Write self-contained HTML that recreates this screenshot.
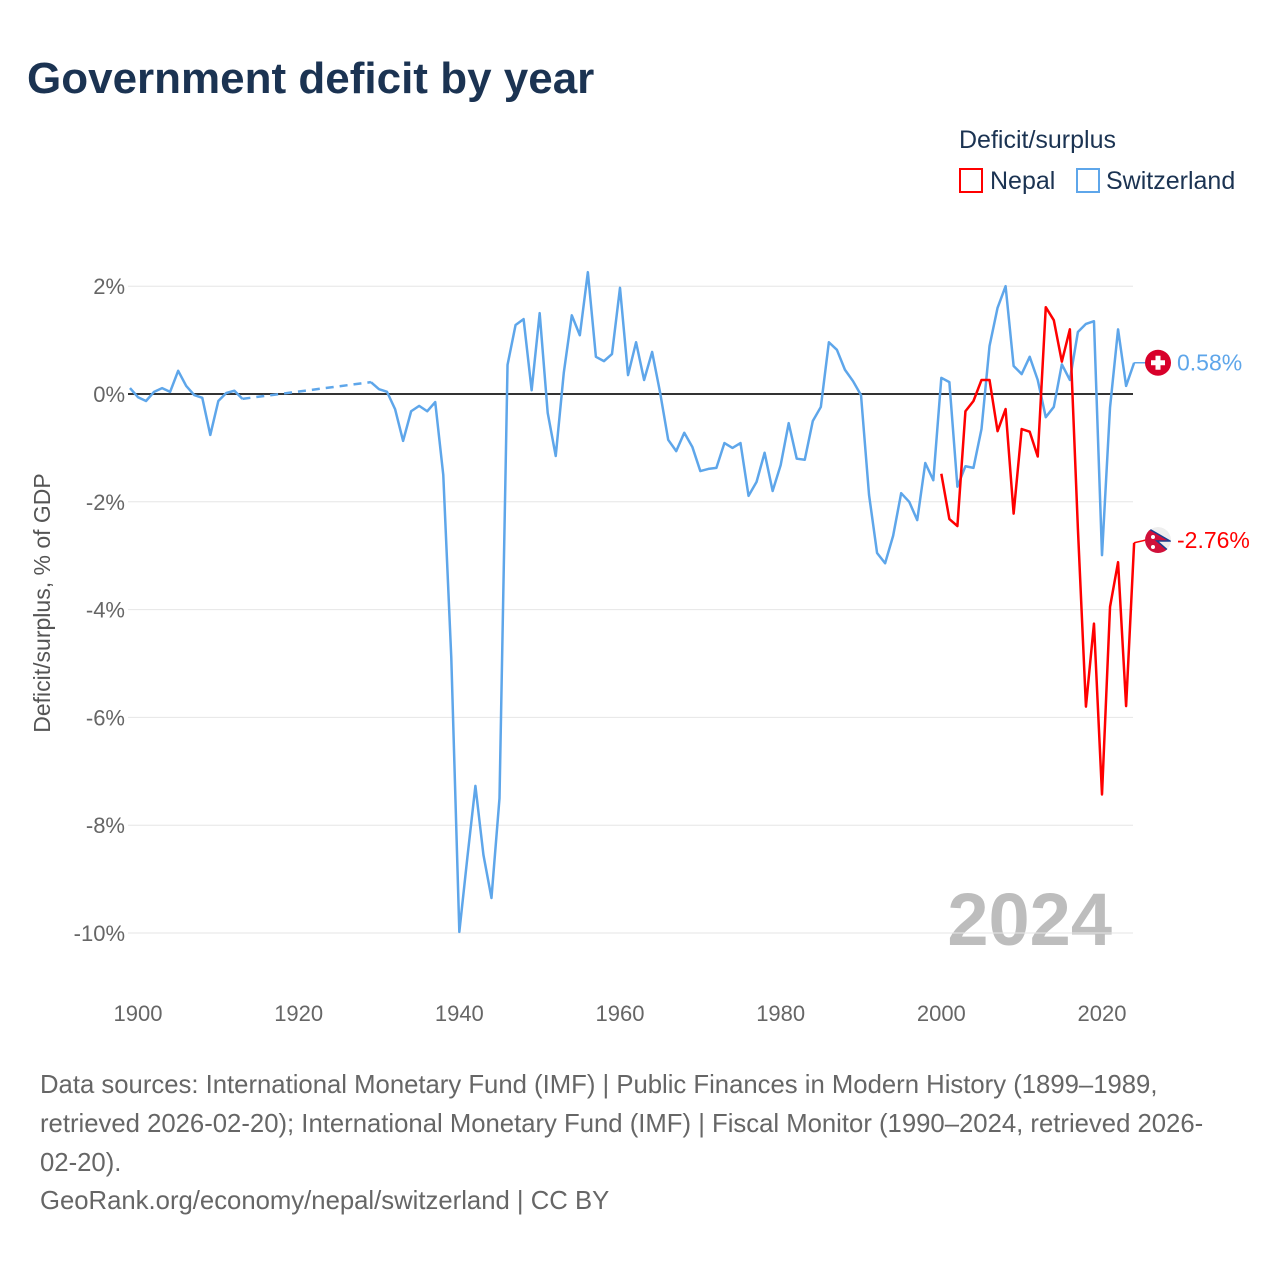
<!DOCTYPE html>
<html><head><meta charset="utf-8"><style>
body{margin:0;background:#fff;width:1280px;height:1280px;overflow:hidden;font-family:"Liberation Sans",sans-serif}
</style></head><body>
<svg id="chart" width="1280" height="1280" xmlns="http://www.w3.org/2000/svg" font-family="Liberation Sans, sans-serif">
<defs><clipPath id="npclip"><circle cx="1158" cy="540" r="13"/></clipPath></defs>
<text x="27" y="93" font-size="44" font-weight="bold" fill="#1b3352">Government deficit by year</text>
<text x="959" y="148" font-size="25" fill="#1b3352">Deficit/surplus</text>
<g><rect x="960" y="169" width="22" height="23" fill="none" stroke="#f00" stroke-width="2"/><text x="990" y="189" font-size="25" fill="#1b3352">Nepal</text></g>
<g><rect x="1077" y="169" width="22" height="23" fill="none" stroke="#5ea6ea" stroke-width="2"/><text x="1106" y="189" font-size="25" fill="#1b3352">Switzerland</text></g>
<text transform="translate(50,603) rotate(-90)" text-anchor="middle" font-size="23" fill="#555">Deficit/surplus, % of GDP</text>
<text x="1112" y="945" text-anchor="end" font-size="74" font-weight="bold" fill="#bdbdbd">2024</text>
<g id="grid"></g><g id="series"></g><g id="labels"></g>
<g font-size="25.7" fill="#666">
<text x="40" y="1093">Data sources: International Monetary Fund (IMF) | Public Finances in Modern History (1899–1989,</text>
<text x="40" y="1132">retrieved 2026-02-20); International Monetary Fund (IMF) | Fiscal Monitor (1990–2024, retrieved 2026-</text>
<text x="40" y="1171">02-20).</text>
<text x="40" y="1209">GeoRank.org/economy/nepal/switzerland | CC BY</text>
</g>
</svg>
<script>
const yTicks=[2,0,-2,-4,-6,-8,-10];
const xTicks=[1900,1920,1940,1960,1980,2000,2020];
const swissStart=1899;
const swissValues=[0.11,-0.06,-0.13,0.04,0.11,0.04,0.43,0.15,-0.02,-0.07,-0.76,-0.13,0.02,0.06,-0.09,
null,null,null,null,null,null,null,null,null,null,null,null,null,null,null,
0.22,0.09,0.04,-0.28,-0.87,-0.32,-0.22,-0.32,-0.15,-1.5,-4.9,-9.98,-8.6,-7.27,-8.55,-9.35,-7.5,
0.54,1.28,1.39,0.07,1.5,-0.35,-1.15,0.39,1.46,1.09,2.26,0.69,0.61,0.74,1.97,0.35,0.96,0.26,0.78,0.02,
-0.85,-1.06,-0.72,-0.98,-1.43,-1.39,-1.37,-0.91,-1.0,-0.91,-1.89,-1.63,-1.09,-1.8,-1.32,-0.54,-1.2,-1.22,-0.5,-0.24,
0.96,0.82,0.45,0.24,-0.02,-1.87,-2.95,-3.14,-2.63,-1.84,-2.0,-2.34,-1.28,-1.6,0.3,0.22,-1.72,-1.34,-1.37,-0.65,
0.89,1.6,2.0,0.52,0.37,0.69,0.26,-0.43,-0.24,0.55,0.26,1.15,1.3,1.35,-2.99,-0.25,1.2,0.15,0.58];
const nepalStart=2000;
const nepalValues=[-1.48,-2.32,-2.45,-0.32,-0.13,0.26,0.26,-0.69,-0.28,-2.22,-0.65,-0.7,-1.16,1.61,1.37,0.6,1.2,-2.5,-5.8,-4.26,-7.43,-3.95,-3.12,-5.79,-2.76];
const NS='http://www.w3.org/2000/svg';
const X=y=>138+(y-1900)*(964/120);
const Y=v=>394-v*53.9;
function mk(t,a,p){const e=document.createElementNS(NS,t);for(const k in a)e.setAttribute(k,a[k]);(p||document.getElementById('series')).appendChild(e);return e;}
const grid=document.getElementById('grid');
yTicks.forEach(t=>{
 const l=mk('line',{x1:128,x2:1133,y1:Y(t),y2:Y(t),stroke:t===0?'#333':'#e6e6e6','stroke-width':t===0?2:1},grid);
 
 
 const tx=mk('text',{x:125,y:Y(t)+8,'text-anchor':'end','font-size':22,fill:'#666'},grid);
 tx.textContent=t+'%';
 
 
});
xTicks.forEach(t=>{
 const tx=mk('text',{x:X(t),y:1021,'text-anchor':'middle','font-size':22,fill:'#666'},grid);
 tx.textContent=t;
 
 
});
function drawSeries(start,vals,color,name){
 let segs=[],cur=[],last=null;
 vals.forEach((v,i)=>{
  if(v===null){if(cur.length){segs.push(cur);cur=[];}return;}
  const p=[X(start+i),Y(v)];
  if(!cur.length&&last){const g=mk('line',{x1:last[0],y1:last[1],x2:p[0],y2:p[1],stroke:color,'stroke-width':2.5,'stroke-dasharray':'8,6'});
   
   }
  cur.push(p);last=p;
 });
 if(cur.length)segs.push(cur);
 segs.forEach(s=>{const pl=mk('polyline',{points:s.map(p=>p.join(',')).join(' '),fill:'none',stroke:color,'stroke-width':2.5,'stroke-linejoin':'round'});
  
  });
 return last;
}
const sl=drawSeries(swissStart,swissValues,'#5ea6ea','switzerland');
const nl=drawSeries(nepalStart,nepalValues,'#f00','nepal');
const lab=document.getElementById('labels');
function endLabel(pt,ly,val,color,name,flag){
 const c=mk('line',{x1:pt[0],y1:pt[1],x2:1146,y2:ly,stroke:color,'stroke-width':1.5},lab);
 
 
 const g=mk('g',{},lab);
 
 
 flag(g,1158,ly);
 const t=mk('text',{x:1177,y:ly+8,'font-size':23,fill:color},lab);
 t.textContent=val.toFixed(2)+'%';
 
 
}
endLabel(sl,sl[1],swissValues[swissValues.length-1],'#5ea6ea','switzerland',(g,x,y)=>{
 mk('circle',{cx:x,cy:y,r:13,fill:'#d8002a'},g);
 mk('rect',{x:x-7,y:y-2.5,width:14,height:5,fill:'#fff'},g);
 mk('rect',{x:x-2.5,y:y-7,width:5,height:14,fill:'#fff'},g);
});
endLabel(nl,540,nepalValues[nepalValues.length-1],'#f00','nepal',(g,x,y)=>{
 const inner=mk('g',{'clip-path':'url(#npclip)'},g);
 mk('circle',{cx:x,cy:y,r:13,fill:'#eee'},inner);
 mk('path',{d:`M${x-14},${y-14} L${x+12},${y+1} L${x-1},${y+1} L${x+14},${y+14} L${x-14},${y+14}Z`,fill:'#d0103a',stroke:'#1a3f8f','stroke-width':1.5},inner);
 mk('circle',{cx:x-5,cy:y-3,r:2,fill:'#fff'},inner);
 mk('circle',{cx:x-5,cy:y+7,r:2,fill:'#fff'},inner);
});
</script>
</body></html>
